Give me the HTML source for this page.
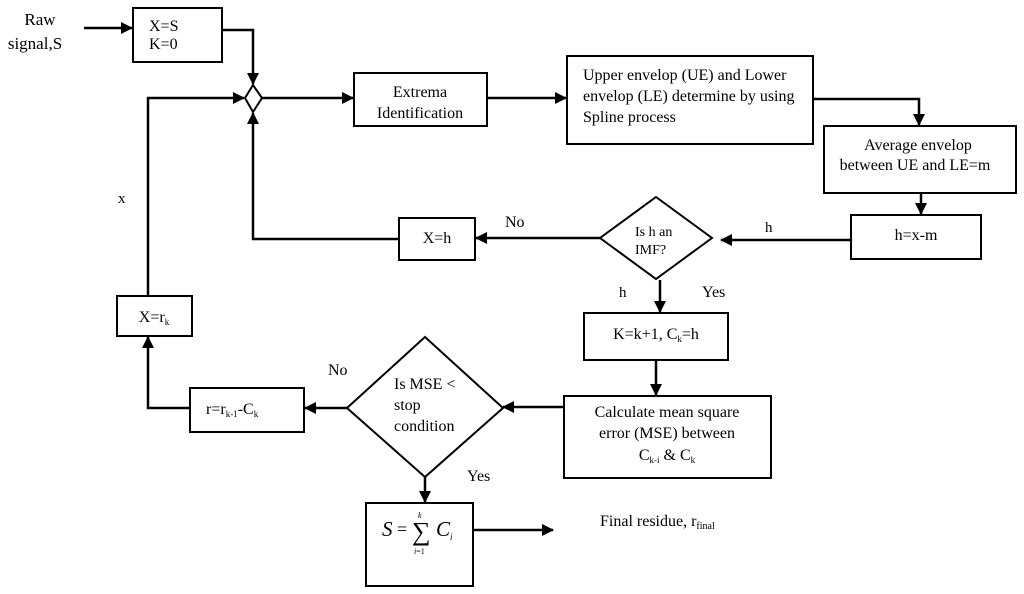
<!DOCTYPE html>
<html><head><meta charset="utf-8"><style>
html,body{margin:0;padding:0;background:#fff;}
svg{display:block;}
text{font-family:"Liberation Serif",serif;fill:#000;}
</style></head><body>
<svg width="1024" height="594" viewBox="0 0 1024 594" xmlns="http://www.w3.org/2000/svg">
<defs>
<marker id="a" markerWidth="12" markerHeight="12" refX="11" refY="6" orient="auto" markerUnits="userSpaceOnUse">
<path d="M0,0 L12,6 L0,12 z" fill="#000"/></marker>
</defs>
<g fill="none" stroke="#000" stroke-width="2">
<rect x="133" y="8" width="89" height="54"/>
<rect x="354" y="73" width="133" height="53"/>
<rect x="567" y="56" width="246" height="88"/>
<rect x="824" y="126" width="192" height="67"/>
<rect x="851" y="215" width="130" height="44"/>
<rect x="399" y="218" width="76" height="42"/>
<rect x="117" y="296" width="75" height="40"/>
<rect x="584" y="313" width="144" height="47"/>
<rect x="564" y="396" width="207" height="82"/>
<rect x="190" y="388" width="114" height="44"/>
<rect x="366" y="503" width="107" height="83"/>
<path d="M253,85 L262,98 L253,112 L245,98 Z"/>
<path d="M656,197 L712,238 L656,279 L600,238 Z"/>
<path d="M425,337 L503,408 L425,477 L347,408 Z"/>
</g>
<g fill="none" stroke="#000" stroke-width="2.5">
<path d="M84,28 H132" marker-end="url(#a)"/>
<path d="M222,30 H253 V84" marker-end="url(#a)"/>
<path d="M148,296 V98 H244" marker-end="url(#a)"/>
<path d="M399,239 H253 V113" marker-end="url(#a)"/>
<path d="M262,98 H353" marker-end="url(#a)"/>
<path d="M487,98 H566" marker-end="url(#a)"/>
<path d="M813,99 H919 V125" marker-end="url(#a)"/>
<path d="M921,193 V214" marker-end="url(#a)"/>
<path d="M851,240 H721" marker-end="url(#a)"/>
<path d="M600,238 H476" marker-end="url(#a)"/>
<path d="M660,280 V312" marker-end="url(#a)"/>
<path d="M656,360 V395" marker-end="url(#a)"/>
<path d="M564,407 H503" marker-end="url(#a)"/>
<path d="M347,408 H305" marker-end="url(#a)"/>
<path d="M190,408 H148 V337" marker-end="url(#a)"/>
<path d="M425,477 V502" marker-end="url(#a)"/>
<path d="M473,530 H553" marker-end="url(#a)"/>
</g>
<g font-size="16">
<text x="40" y="25" text-anchor="middle" font-size="17">Raw</text>
<text x="35" y="49" text-anchor="middle" font-size="17">signal,S</text>
<text x="149" y="31" font-size="16">X=S</text>
<text x="149" y="49" font-size="16">K=0</text>
<text x="420" y="97" text-anchor="middle">Extrema</text>
<text x="420" y="118" text-anchor="middle">Identification</text>
<text x="583" y="80">Upper envelop (UE) and Lower</text>
<text x="583" y="101">envelop (LE) determine by using</text>
<text x="583" y="122">Spline process</text>
<text x="918" y="150" text-anchor="middle">Average envelop</text>
<text x="915" y="170" text-anchor="middle">between UE and LE=m</text>
<text x="916" y="240" text-anchor="middle">h=x-m</text>
<text x="765" y="232" font-size="15">h</text>
<text x="635" y="236" font-size="14">Is h an</text>
<text x="635" y="254" font-size="14">IMF?</text>
<text x="505" y="227">No</text>
<text x="437" y="243" text-anchor="middle">X=h</text>
<text x="118" y="203" font-size="15">x</text>
<text x="619" y="297" font-size="15">h</text>
<text x="702" y="297">Yes</text>
<text x="656" y="339" text-anchor="middle">K=k+1, C<tspan font-size="9" dy="3">k</tspan><tspan dy="-3">=h</tspan></text>
<text x="154" y="322" text-anchor="middle">X=r<tspan font-size="9" dy="3">k</tspan></text>
<text x="328" y="375">No</text>
<text x="394" y="389">Is MSE &lt;</text>
<text x="394" y="410">stop</text>
<text x="394" y="431">condition</text>
<text x="667" y="417" text-anchor="middle">Calculate mean square</text>
<text x="667" y="438" text-anchor="middle">error (MSE) between</text>
<text x="667" y="460" text-anchor="middle">C<tspan font-size="9" dy="3">k-i</tspan><tspan dy="-3"> &amp; C</tspan><tspan font-size="9" dy="3">k</tspan></text>
<text x="206" y="414">r=r<tspan font-size="9" dy="3">k-1</tspan><tspan dy="-3">-C</tspan><tspan font-size="9" dy="3">k</tspan></text>
<text x="467" y="481">Yes</text>
<text x="382" y="536" font-size="21" font-style="italic">S</text>
<text x="397" y="535" font-size="18">=</text>
<text x="412" y="540" font-size="26">∑</text>
<text x="418" y="518" font-size="8" font-style="italic">k</text>
<text x="414" y="554" font-size="8"><tspan font-style="italic">i</tspan>=1</text>
<text x="436" y="536" font-size="21" font-style="italic">C<tspan font-size="9" dy="4">i</tspan></text>
<text x="600" y="526">Final residue, r<tspan font-size="10" dy="3">final</tspan></text>
</g>
</svg>
</body></html>
